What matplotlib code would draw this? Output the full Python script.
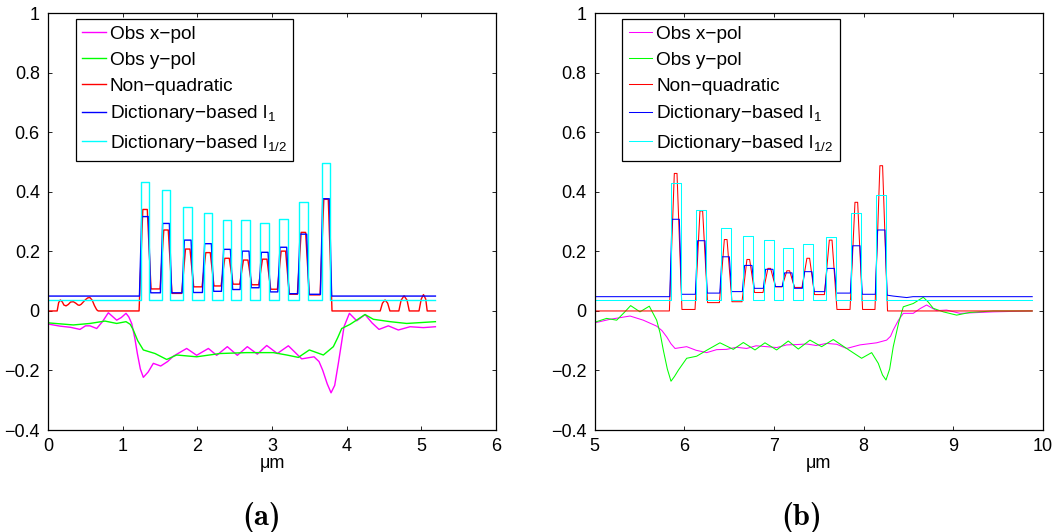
import matplotlib
matplotlib.use("Agg")
import matplotlib.pyplot as plt

plt.rcParams['font.family'] = ['Liberation Sans', 'DejaVu Sans']
plt.rcParams['mathtext.fontset'] = 'custom'
plt.rcParams['mathtext.rm'] = 'Liberation Sans'
plt.rcParams['mathtext.it'] = 'Liberation Sans'

# ---------------- labels / ticks ----------------
series_labels = ['Obs x\u2212pol', 'Obs y\u2212pol', 'Non\u2212quadratic',
                 'Dictionary\u2212based l$_{1}$', 'Dictionary\u2212based l$_{1/2}$']
y_ticks = [-0.4, -0.2, 0, 0.2, 0.4, 0.6, 0.8, 1.0]
y_tick_labels = ['\u22120.4', '\u22120.2', '0', '0.2', '0.4', '0.6', '0.8', '1']
a_x_ticks = [0, 1, 2, 3, 4, 5, 6]
b_x_ticks = [5, 6, 7, 8, 9, 10]

# ---------------- panel (a) data ----------------
a_centers = [1.298, 1.579, 1.870, 2.142, 2.397, 2.647, 2.902, 3.152, 3.420, 3.724]
a_cyan_peaks = [0.434, 0.408, 0.350, 0.330, 0.307, 0.307, 0.296, 0.310, 0.365, 0.498]
a_cyan_base = 0.0355
a_blue_peaks = [0.317, 0.294, 0.238, 0.226, 0.207, 0.201, 0.197, 0.214, 0.258, 0.377]
a_blue_valleys = [0.061, 0.061, 0.062, 0.066, 0.072, 0.078, 0.064, 0.058, 0.056]
a_blue_base = 0.050
a_red_peaks = [0.341, 0.272, 0.208, 0.196, 0.177, 0.171, 0.174, 0.201, 0.264, 0.375]
a_red_valleys = [0.074, 0.059, 0.081, 0.084, 0.090, 0.088, 0.073, 0.056, 0.054]
a_red_left_x = [0.0, 0.12, 0.14, 0.163, 0.19, 0.21, 0.239, 0.27, 0.30, 0.337, 0.37, 0.40,
                0.417, 0.44, 0.50, 0.530, 0.560, 0.59, 0.62, 0.65, 0.67, 1.15]
a_red_left_y = [0.0, 0.0, 0.028, 0.037, 0.030, 0.020, 0.017, 0.022, 0.030, 0.031, 0.026,
                0.020, 0.019, 0.022, 0.038, 0.044, 0.045, 0.036, 0.018, 0.004, 0.0, 0.0]
a_red_right_x = [3.88, 4.45, 4.48, 4.515, 4.55, 4.58, 4.70, 4.73, 4.770, 4.81, 4.84, 4.97,
                 5.00, 5.03, 5.06, 5.08, 5.19]
a_red_right_y = [0.0, 0.0, 0.026, 0.037, 0.026, 0.0, 0.0, 0.036, 0.051, 0.036, 0.0, 0.0,
                 0.040, 0.055, 0.040, 0.0, 0.0]
a_magenta_x = [0.0, 0.158, 0.30, 0.426, 0.500, 0.560, 0.610, 0.650, 0.73, 0.806, 0.86, 0.918,
               0.98, 1.043, 1.08, 1.119, 1.16, 1.195, 1.235, 1.275, 1.34, 1.409, 1.508, 1.60,
               1.677, 1.856, 1.990, 2.147, 2.258, 2.401, 2.535, 2.669, 2.803, 2.929, 3.071,
               3.219, 3.398, 3.563, 3.63, 3.679, 3.74, 3.791, 3.84, 3.889, 3.93, 3.965, 4.037,
               4.135, 4.247, 4.34, 4.434, 4.559, 4.693, 4.850, 5.029, 5.19]
a_magenta_y = [-0.044, -0.051, -0.055, -0.062, -0.050, -0.050, -0.055, -0.059, -0.035, -0.006,
               -0.018, -0.031, -0.022, -0.008, -0.020, -0.042, -0.090, -0.143, -0.195, -0.223,
               -0.205, -0.176, -0.185, -0.170, -0.152, -0.126, -0.149, -0.126, -0.149, -0.120,
               -0.149, -0.120, -0.145, -0.116, -0.143, -0.117, -0.161, -0.154, -0.170, -0.199,
               -0.245, -0.275, -0.250, -0.176, -0.110, -0.053, -0.008, -0.033, -0.012, -0.040,
               -0.062, -0.050, -0.064, -0.053, -0.056, -0.053]
a_green_x = [0.0, 0.337, 0.560, 0.761, 0.918, 1.043, 1.10, 1.141, 1.20, 1.275, 1.432, 1.588,
             1.722, 1.990, 2.303, 2.660, 3.018, 3.197, 3.353, 3.500, 3.688, 3.822, 3.88, 3.934,
             4.046, 4.15, 4.247, 4.358, 4.582, 4.805, 5.19]
a_green_y = [-0.040, -0.047, -0.042, -0.034, -0.042, -0.036, -0.045, -0.064, -0.100, -0.131,
             -0.143, -0.163, -0.148, -0.154, -0.143, -0.140, -0.140, -0.148, -0.156, -0.131,
             -0.148, -0.120, -0.090, -0.059, -0.045, -0.028, -0.012, -0.028, -0.036, -0.042,
             -0.036]
a_x_end = 5.19

# ---------------- panel (b) data ----------------
b_centers = [5.903, 6.189, 6.461, 6.713, 6.947, 7.159, 7.382, 7.632, 7.918, 8.196]
b_cyan_peaks = [0.429, 0.339, 0.280, 0.253, 0.237, 0.211, 0.226, 0.247, 0.329, 0.388]
b_cyan_base = 0.0355
b_blue_peaks = [0.308, 0.236, 0.182, 0.153, 0.140, 0.128, 0.132, 0.143, 0.219, 0.272]
b_blue_valleys = [0.056, 0.060, 0.065, 0.076, 0.082, 0.076, 0.065, 0.060, 0.056]
b_blue_base_left = 0.048
b_blue_tail_x = [8.33, 8.48, 8.55, 9.88]
b_blue_tail_y = [0.050, 0.045, 0.048, 0.048]
b_red_peaks = [0.462, 0.336, 0.240, 0.173, 0.143, 0.135, 0.177, 0.238, 0.365, 0.488]
b_red_valleys = [0.005, 0.028, 0.031, 0.062, 0.081, 0.079, 0.055, 0.005, 0.005]
b_magenta_x = [5.0, 5.171, 5.394, 5.542, 5.691, 5.75, 5.803, 5.85, 5.896, 6.026, 6.13, 6.249,
               6.36, 6.472, 6.58, 6.695, 6.80, 6.918, 7.03, 7.141, 7.25, 7.364, 7.47, 7.587,
               7.70, 7.810, 7.959, 8.145, 8.256, 8.30, 8.330, 8.39, 8.442, 8.553, 8.63, 8.702,
               8.814, 8.925, 9.074, 9.446, 9.88]
b_magenta_y = [-0.040, -0.028, -0.017, -0.031, -0.051, -0.066, -0.087, -0.110, -0.126, -0.120,
               -0.132, -0.140, -0.130, -0.129, -0.122, -0.126, -0.117, -0.120, -0.123, -0.114,
               -0.113, -0.111, -0.116, -0.109, -0.112, -0.126, -0.114, -0.107, -0.098, -0.085,
               -0.064, -0.030, -0.008, -0.008, 0.008, 0.020, 0.001, 0.003, -0.008, -0.003, 0.0]
b_green_x = [5.0, 5.133, 5.245, 5.33, 5.401, 5.505, 5.609, 5.691, 5.73, 5.765, 5.81, 5.851,
             5.89, 5.933, 6.026, 6.137, 6.267, 6.397, 6.546, 6.658, 6.788, 6.899, 7.029,
             7.159, 7.271, 7.401, 7.531, 7.661, 7.810, 7.977, 8.089, 8.163, 8.21, 8.249,
             8.29, 8.330, 8.39, 8.442, 8.553, 8.665, 8.72, 8.776, 8.888, 9.037, 9.185, 9.446,
             9.88]
b_green_y = [-0.038, -0.025, -0.031, -0.005, 0.018, -0.003, 0.016, -0.031, -0.075, -0.131,
             -0.195, -0.236, -0.220, -0.199, -0.159, -0.152, -0.129, -0.107, -0.129, -0.106,
             -0.131, -0.107, -0.131, -0.101, -0.128, -0.098, -0.120, -0.096, -0.126, -0.159,
             -0.140, -0.176, -0.215, -0.232, -0.195, -0.120, -0.040, 0.014, 0.025, 0.046,
             0.030, 0.009, -0.003, -0.014, -0.005, 0.0, 0.0]
b_x_end = 9.88

colors = ['#ff00ff', '#00ff00', '#ff0000', '#0000ff', '#00ffff']


def pulse_trace(centers, peaks, valleys, base_l, base_r, rise, top, x0=None, x1=None):
    xs, ys = [], []
    if x0 is not None:
        xs.append(x0); ys.append(base_l)
    n = len(centers)
    for i, (c, p) in enumerate(zip(centers, peaks)):
        vl = base_l if i == 0 else valleys[i - 1]
        vr = base_r if i == n - 1 else valleys[i]
        xs += [c - top - rise, c - top, c + top, c + top + rise]
        ys += [vl, p, p, vr]
    if x1 is not None:
        xs.append(x1); ys.append(base_r)
    return xs, ys


def step_trace(centers, peaks, base, hw, x0, x1):
    xs, ys = [x0], [base]
    for c, p in zip(centers, peaks):
        xs += [c - hw, c - hw, c + hw, c + hw]
        ys += [base, p, p, base]
    xs.append(x1); ys.append(base)
    return xs, ys


fig = plt.figure(figsize=(10.58, 5.32), dpi=100)
ax_a = fig.add_axes([0.04556, 0.1917, 0.4231, 0.7833])
ax_b = fig.add_axes([0.5621, 0.1917, 0.4237, 0.7833])

# ---- panel (a)
lw = 1.0
ax_a.plot(a_magenta_x, a_magenta_y, color=colors[0], lw=lw)
ax_a.plot(a_green_x, a_green_y, color=colors[1], lw=lw)
rx, ry = pulse_trace(a_centers, a_red_peaks, a_red_valleys, 0.0, 0.0, 0.05, 0.03)
ax_a.plot(a_red_left_x + rx + a_red_right_x, a_red_left_y + ry + a_red_right_y,
          color=colors[2], lw=lw)
bx, by = pulse_trace(a_centers, a_blue_peaks, a_blue_valleys, a_blue_base, a_blue_base,
                     0.03, 0.045, x0=0.0, x1=a_x_end)
ax_a.plot(bx, by, color=colors[3], lw=lw)
cx, cy = step_trace(a_centers, a_cyan_peaks, a_cyan_base, 0.058, 0.0, a_x_end)
ax_a.plot(cx, cy, color=colors[4], lw=lw)

# ---- panel (b)
lw = 0.75
ax_b.plot(b_magenta_x, b_magenta_y, color=colors[0], lw=lw)
ax_b.plot(b_green_x, b_green_y, color=colors[1], lw=lw)
rx, ry = pulse_trace(b_centers, b_red_peaks, b_red_valleys, 0.0, 0.0, 0.055, 0.015,
                     x0=5.0, x1=b_x_end)
ax_b.plot(rx, ry, color=colors[2], lw=lw)
bx, by = pulse_trace(b_centers, b_blue_peaks, b_blue_valleys, b_blue_base_left, 0.053,
                     0.025, 0.041, x0=5.0)
ax_b.plot(bx + b_blue_tail_x, by + b_blue_tail_y, color=colors[3], lw=lw)
cx, cy = step_trace(b_centers, b_cyan_peaks, b_cyan_base, 0.056, 5.0, b_x_end)
ax_b.plot(cx, cy, color=colors[4], lw=lw)

for ax, xt, xlim in [(ax_a, a_x_ticks, (0, 6)), (ax_b, b_x_ticks, (5, 10))]:
    ax.set_xlim(*xlim)
    ax.set_ylim(-0.4, 1.0)
    ax.set_xticks(xt)
    ax.set_xticklabels([str(v) for v in xt])
    ax.set_yticks(y_ticks)
    ax.set_yticklabels(y_tick_labels)
    ax.tick_params(direction='in', length=3, width=0.6, top=True, right=True,
                   labelsize=13, pad=6, colors='black')
    for s in ax.spines.values():
        s.set_linewidth(0.9)
    ax.set_xlabel('\u03bcm', fontsize=13, labelpad=0)
    leg = ax.legend(ax.get_lines(), series_labels, loc='upper left',
                    bbox_to_anchor=(0.061, 0.986), borderaxespad=0, fontsize=13.7,
                    frameon=True, fancybox=False, edgecolor='black', framealpha=1,
                    handlelength=1.25, handletextpad=0.2, borderpad=0.35, labelspacing=0.45)
    leg.get_frame().set_linewidth(0.9)

fig.text(0.2476, 0.028, '(a)', fontsize=22, family='cmb10', ha='center', va='center')
fig.text(0.758, 0.028, '(b)', fontsize=22, family='cmb10', ha='center', va='center')

fig.savefig('out.png', dpi=100)
